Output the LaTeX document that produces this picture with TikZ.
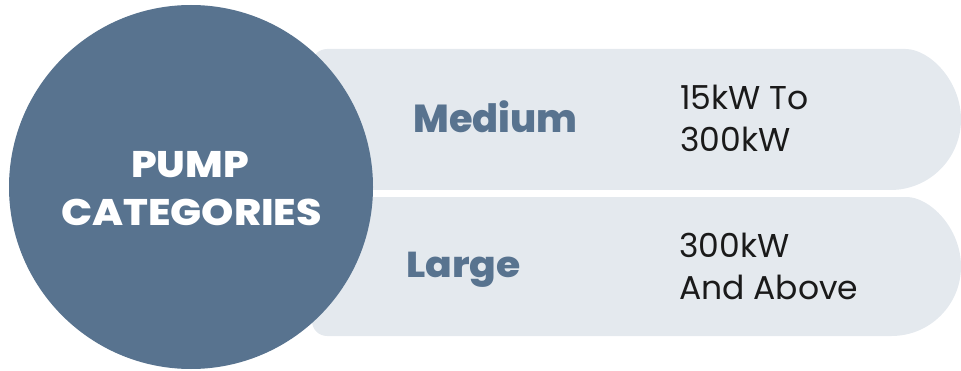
\documentclass[tikz,border=0pt]{standalone}
\usepackage{graphicx}
\usepackage{fontspec}
\setmainfont{Poppins}
\newfontfamily\heavyfont{Poppins ExtraBold}
\definecolor{pumpblue}{HTML}{58738F}
\definecolor{barfill}{HTML}{E4E9EE}
\definecolor{valtext}{HTML}{1A1A1A}
\newcommand{\widen}[2]{\scalebox{#1}[1]{#2}}
\begin{document}
\begin{tikzpicture}[x=1pt,y=1pt,
  barshape/.style={fill=barfill},
  cat/.style={font=\heavyfont\fontsize{#1}{#1}\selectfont, text=pumpblue, anchor=base, inner sep=0},
  val/.style={font=\fontsize{33}{33}\selectfont, text=valtext, anchor=base west, inner sep=0},
  head/.style={font=\heavyfont\fontsize{37}{37}\selectfont, text=white, anchor=base, inner sep=0}]
\useasboundingbox (0,0) rectangle (961,370);
% bars
\fill[barshape, rounded corners=15pt] (312,250) -- (312,321) -- (890.5,321) [sharp corners] arc (90:-90:70.5) [rounded corners=15pt] -- (312,180) -- cycle;
\fill[barshape, rounded corners=15pt] (312,103) -- (312,173) -- (891.5,173) [sharp corners] arc (90:-90:69.5) [rounded corners=15pt] -- (312,34) -- cycle;
% circle
\node[circle, fill=pumpblue, minimum size=364pt, inner sep=0] (pc) at (191,183) {};
\node[head] (h1) at (190,193) {\widen{1.09}{PUMP}};
\node[head] (h2) at (191.5,145) {\widen{1.11}{CATEGORIES}};
% categories
\node[cat=39] (med) at (495.5,237) {\widen{0.98}{Medium}};
\node[cat=36] (lrg) at (463.5,93) {\widen{1.09}{Large}};
% values
\node[val] (v1a) at (680,260) {15kW To};
\node[val] (v1b) at (680,218) {300kW};
\node[val] (v2a) at (679,113) {300kW};
\node[val] (v2b) at (679,71) {And Above};
\end{tikzpicture}
\end{document}
